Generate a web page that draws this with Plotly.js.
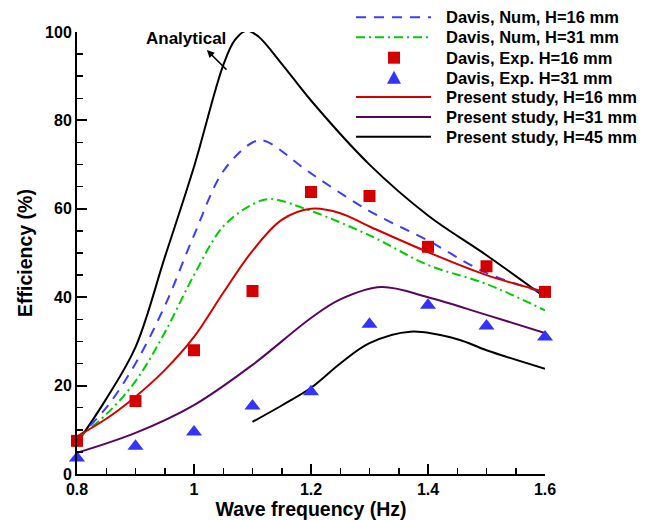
<!DOCTYPE html>
<html>
<head>
<meta charset="utf-8">
<script src="https://cdn.plot.ly/plotly-3.0.1.min.js"></script>
<style>html,body{margin:0;padding:0;background:#fff;}#chart{width:651px;height:520px;}</style>
</head>
<body>
<div id="chart"></div>
<script>
// Analytical curve
var anaX = [0.8, 0.85, 0.9, 0.95, 1.0, 1.05, 1.07, 1.09, 1.11, 1.15, 1.2, 1.3, 1.4, 1.5, 1.6];
var anaY = [7, 17, 28.7, 49, 69.5, 92.5, 98.2, 100.3, 99, 92.8, 84.5, 70, 58.5, 49.5, 40];

// Davis, Num, H=16 mm
var numH16X = [0.8, 0.85, 0.9, 0.95, 1.0, 1.05, 1.1, 1.12, 1.2, 1.3, 1.4, 1.5, 1.6];
var numH16Y = [8, 15, 25, 38, 54, 68.5, 75, 75.4, 68, 59.5, 52.8, 45.5, 41];

// Davis, Num, H=31 mm
var numH31X = [0.8, 0.85, 0.9, 0.95, 1.0, 1.05, 1.1, 1.13, 1.2, 1.3, 1.4, 1.5, 1.6];
var numH31Y = [8, 13.5, 21, 32, 45, 56, 61, 62.2, 59.5, 54, 47.3, 43, 37];

// Davis, Exp. H=16 mm
var expH16X = [0.8, 0.9, 1.0, 1.1, 1.2, 1.3, 1.4, 1.5, 1.6];
var expH16Y = [7.5, 16.5, 28, 41.4, 63.8, 62.9, 51.4, 47, 41.2];

// Davis, Exp. H=31 mm
var expH31X = [0.8, 0.9, 1.0, 1.1, 1.2, 1.3, 1.4, 1.5, 1.6];
var expH31Y = [3.6, 6.3, 9.5, 15.4, 18.6, 33.9, 38.2, 33.5, 31];

// Present study, H=16 mm
var preH16X = [0.8, 0.85, 0.9, 0.95, 1.0, 1.05, 1.1, 1.15, 1.2, 1.25, 1.3, 1.4, 1.5, 1.6];
var preH16Y = [8.5, 12.5, 17.5, 23.5, 31, 41, 50.5, 57.5, 60, 59, 56, 50.2, 45, 41.2];

// Present study, H=31 mm
var preH31X = [0.8, 0.9, 1.0, 1.1, 1.2, 1.25, 1.32, 1.4, 1.5, 1.6];
var preH31Y = [4.8, 9.3, 15.6, 24.7, 35.3, 39.5, 42.3, 40, 36, 31.9];

// Present study, H=45 mm
var preH45X = [1.1, 1.15, 1.2, 1.25, 1.3, 1.37, 1.45, 1.5, 1.6];
var preH45Y = [11.8, 15.5, 19.5, 25, 29.6, 32.2, 30.5, 28, 23.8];

var names = ["Davis, Num, H=16 mm", "Davis, Num, H=31 mm", "Davis, Exp. H=16 mm",
             "Davis, Exp. H=31 mm", "Present study, H=16 mm", "Present study, H=31 mm",
             "Present study, H=45 mm"];
var xTickVals = [0.8, 1.0, 1.2, 1.4, 1.6];
var xTickText = ["0.8", "1", "1.2", "1.4", "1.6"];
var yTickVals = [0, 20, 40, 60, 80, 100];

var F = "Liberation Sans, Arial, sans-serif";
var C = {blue: "#3c3cff", green: "#00cc00", red: "#d40000", purple: "#5a065e", black: "#000", tri: "#3333ff"};
var DASH = "10px,8px", DASHDOT = "9px,4px,2px,4px";

var traces = [
  {x: anaX, y: anaY, mode: "lines", line: {color: C.black, width: 2, shape: "spline"}, name: "Analytical"},
  {x: numH16X, y: numH16Y, mode: "lines", name: names[0], line: {color: C.blue, width: 2, dash: DASH, shape: "spline"}},
  {x: numH31X, y: numH31Y, mode: "lines", name: names[1], line: {color: C.green, width: 2, dash: DASHDOT, shape: "spline"}},
  {x: preH16X, y: preH16Y, mode: "lines", name: names[4], line: {color: C.red, width: 2, shape: "spline"}},
  {x: preH31X, y: preH31Y, mode: "lines", name: names[5], line: {color: C.purple, width: 2, shape: "spline"}},
  {x: preH45X, y: preH45Y, mode: "lines", name: names[6], line: {color: C.black, width: 2, shape: "spline"}},
  {x: expH16X, y: expH16Y, mode: "markers", name: names[2], cliponaxis: false,
   marker: {symbol: "square", size: 12, color: C.red}},
  {x: expH31X, y: expH31Y, mode: "markers", name: names[3], cliponaxis: false,
   marker: {symbol: "triangle-up", size: 14, color: C.tri}}
];

// Hand-built legend (Tecplot style: long line samples, tight rows)
var plotL = 77, plotW = 468, plotB = 474, plotH = 442;
function px2x(p) { return (p - plotL) / plotW; }
function px2y(p) { return (plotB - p) / plotH; }
var rowY = [17.3, 37.3, 57.7, 77.7, 97, 117, 136.7];
var legendKinds = [
  {type: "line", color: C.blue, dash: DASH},
  {type: "line", color: C.green, dash: DASHDOT},
  {type: "square", color: C.red},
  {type: "triangle", color: C.tri},
  {type: "line", color: C.red, dash: "solid"},
  {type: "line", color: C.purple, dash: "solid"},
  {type: "line", color: C.black, dash: "solid"}
];
var shapes = [], annotations = [];
legendKinds.forEach(function (k, i) {
  var yy = px2y(rowY[i]);
  if (k.type === "line") {
    shapes.push({type: "line", xref: "paper", yref: "paper", x0: px2x(356), x1: px2x(431), y0: yy, y1: yy,
                 line: {color: k.color, width: 2, dash: k.dash}});
  } else if (k.type === "square") {
    shapes.push({type: "rect", xref: "paper", yref: "paper", xsizemode: "pixel", ysizemode: "pixel",
                 xanchor: px2x(394), yanchor: yy, x0: -6, x1: 6, y0: -6, y1: 6,
                 fillcolor: k.color, line: {width: 0}});
  } else {
    shapes.push({type: "path", xref: "paper", yref: "paper", xsizemode: "pixel", ysizemode: "pixel",
                 xanchor: px2x(394), yanchor: yy, path: "M-7,-6 L7,-6 L0,7 Z",
                 fillcolor: k.color, line: {width: 0}});
  }
  annotations.push({xref: "paper", yref: "paper", x: px2x(444), y: yy, xanchor: "left", yanchor: "middle",
                    text: names[i], showarrow: false, font: {family: F, size: 16.5, weight: "bold", color: "#000"}});
});

annotations.push({x: 0.987, y: 98.6, xref: "x", yref: "y", text: "Analytical", showarrow: false,
                  font: {family: F, size: 17, weight: "bold"}});
annotations.push({x: 1.022, y: 95.9, ax: 1.0615, ay: 90.7, xref: "x", yref: "y", axref: "x", ayref: "y",
                  text: " ", showarrow: true, arrowhead: 2, arrowsize: 1, arrowwidth: 1.5, arrowcolor: "#000", standoff: 0});

var layout = {
  width: 651, height: 520,
  margin: {l: 77, r: 106, t: 32, b: 46, autoexpand: false},
  paper_bgcolor: "#fff", plot_bgcolor: "#fff",
  font: {family: F, color: "#000", size: 15, weight: "bold"},
  showlegend: false,
  xaxis: {
    range: [0.8, 1.6], showgrid: false, zeroline: false,
    showline: true, linecolor: "#000", linewidth: 2,
    ticks: "inside", ticklen: 10, tickwidth: 2, tickcolor: "#000",
    tickvals: xTickVals, ticktext: xTickText,
    tickfont: {family: F, size: 16, weight: "bold"},
    minor: {dtick: 0.05, tick0: 0.8, ticks: "inside", ticklen: 6, tickwidth: 1.5, tickcolor: "#000", showgrid: false},
    title: {text: "Wave frequency (Hz)", font: {family: F, size: 19.5, weight: "bold"}, standoff: 3}
  },
  yaxis: {
    range: [0, 100], showgrid: false, zeroline: false,
    showline: true, linecolor: "#000", linewidth: 2,
    ticks: "inside", ticklen: 10, tickwidth: 2, tickcolor: "#000",
    tickvals: yTickVals,
    tickfont: {family: F, size: 16, weight: "bold"},
    minor: {dtick: 5, tick0: 0, ticks: "inside", ticklen: 6, tickwidth: 1.5, tickcolor: "#000", showgrid: false},
    title: {text: "Efficiency (%)", font: {family: F, size: 19.5, weight: "bold"}, standoff: 7}
  },
  shapes: shapes,
  annotations: annotations
};

Plotly.newPlot("chart", traces, layout, {displayModeBar: false, staticPlot: true});
</script>
</body>
</html>
